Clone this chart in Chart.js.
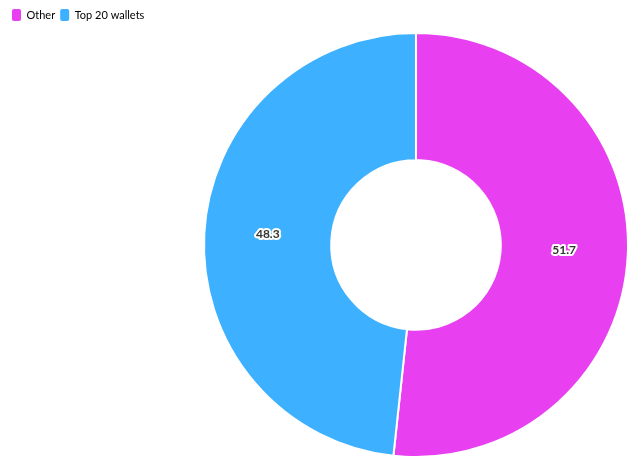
<!DOCTYPE html>
<html>
<head>
<meta charset="UTF-8">
<script src="https://cdn.jsdelivr.net/npm/chart.js"></script>
<style>
  html, body { margin: 0; padding: 0; background: #fff; }
  #wrap { width: 630px; height: 457px; }
</style>
</head>
<body>
<div id="wrap"><canvas id="grafico"></canvas></div>
<script>
const categorias = ["Other", "Top 20 wallets"];
const valores = [51.7, 48.3];
const colores = ["#E840F0", "#3DB1FF"];

// etiquetas con contorno blanco sobre cada porción
const etiquetas = {
    id: "etiquetas",
    afterDatasetsDraw(chart) {
        const ctx = chart.ctx;
        const meta = chart.getDatasetMeta(0);
        ctx.save();
        ctx.font = "bold 12px Lato, sans-serif";
        ctx.textAlign = "center";
        ctx.textBaseline = "middle";
        ctx.lineJoin = "round";
        meta.data.forEach((arc, i) => {
            const p = arc.tooltipPosition();
            const txt = String(valores[i]);
            ctx.strokeStyle = "#fff";
            ctx.lineWidth = 4;
            ctx.strokeText(txt, p.x, p.y - 3);
            ctx.fillStyle = "#333";
            ctx.fillText(txt, p.x, p.y - 3);
        });
        ctx.restore();
    }
};

// mueve el área del gráfico a la derecha
const desplazar = {
    id: "desplazar",
    afterLayout(chart) {
        const a = chart.chartArea;
        a.left = 203;
        a.right = 629;
        a.top = 31;
        a.bottom = 459;
        a.width = a.right - a.left;
        a.height = a.bottom - a.top;
    }
};

new Chart(document.getElementById("grafico"), {
    type: "doughnut",
    data: {
        labels: categorias,
        datasets: [{
            data: valores,
            backgroundColor: colores,
            borderColor: "#fff",
            borderWidth: 2
        }]
    },
    options: {
        responsive: true,
        maintainAspectRatio: false,
        animation: false,
        cutout: "40%",
        layout: { padding: { top: 4, left: 7 } },
        plugins: {
            legend: {
                position: "top",
                align: "start",
                labels: {
                    boxWidth: 9,
                    boxHeight: 12,
                    useBorderRadius: true,
                    borderRadius: 2,
                    padding: 5,
                    color: "#444",
                    font: { family: "Lato, sans-serif", size: 11 },
                    generateLabels(chart) {
                        return categorias.map((c, i) => ({
                            text: c,
                            fillStyle: colores[i],
                            strokeStyle: colores[i],
                            lineWidth: 0,
                            borderRadius: 2,
                            hidden: false,
                            index: i
                        }));
                    }
                }
            },
            tooltip: { enabled: false }
        }
    },
    plugins: [etiquetas, desplazar]
});
</script>
</body>
</html>
